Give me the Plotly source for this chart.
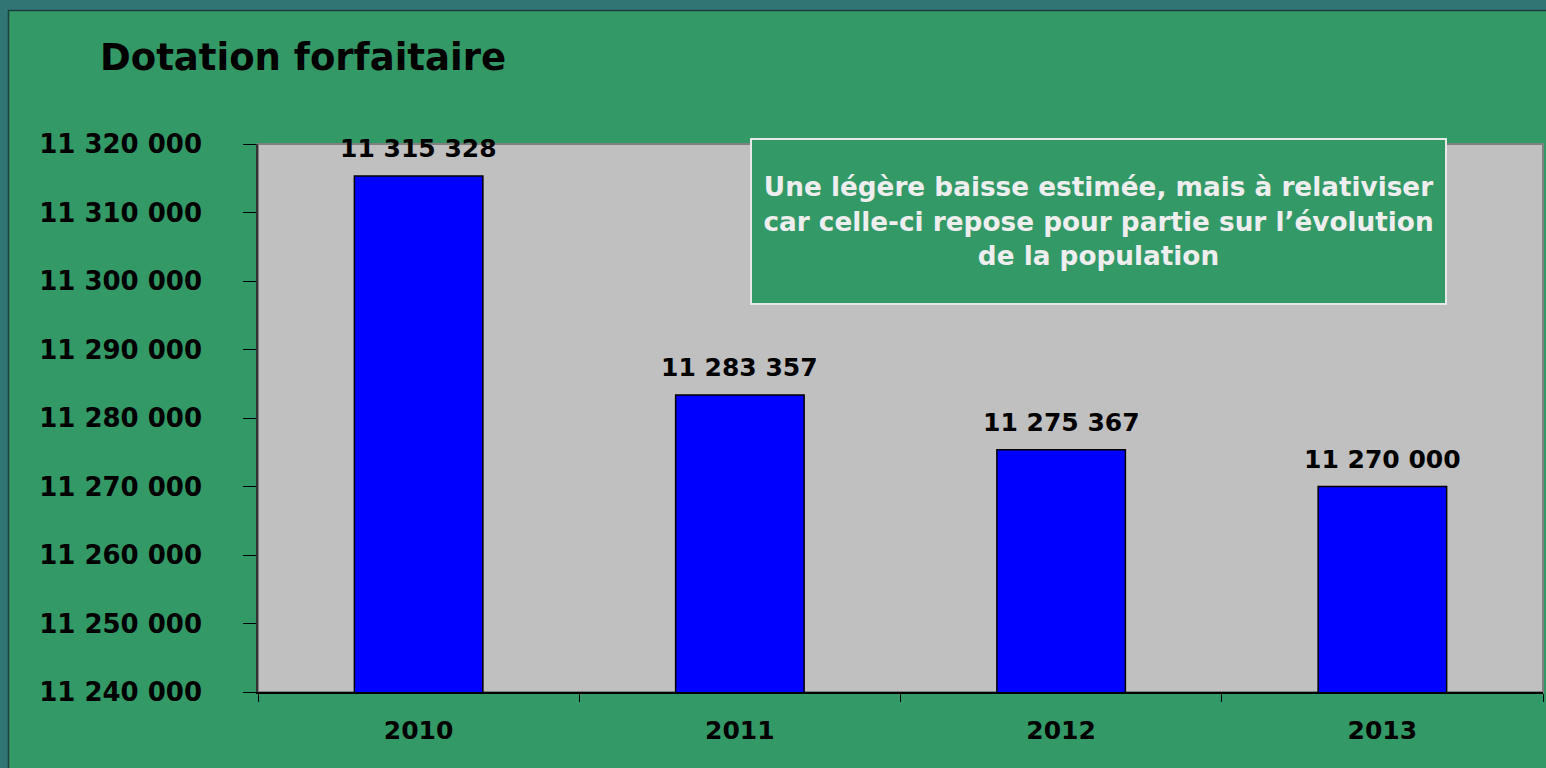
import plotly.graph_objects as go

years = ["2010", "2011", "2012", "2013"]
dotation = [11315328, 11283357, 11275367, 11270000]
y_ticks = [11240000, 11250000, 11260000, 11270000, 11280000, 11290000, 11300000, 11310000, 11320000]

W, H = 1546, 768
L, R, T, B = 258, 3, 144, 76
pw, ph = W - L - R, H - T - B
FONT = "DejaVu Sans, Liberation Sans, Arial"


def px(x):
    return (x - L) / pw


def py(y):
    return (H - B - y) / ph


fig = go.Figure()

fig.add_trace(go.Bar(
    x=years,
    y=dotation,
    marker=dict(color="#0000FF", line=dict(color="black", width=1.5)),
    hoverinfo="skip",
))

# value labels above the bars (category index for x)
for i, v in enumerate(dotation):
    fig.add_annotation(
        x=i, y=v, xref="x", yref="y",
        text=f"<b>{v:,}</b>".replace(",", " "),
        showarrow=False, yanchor="bottom", yshift=11,
        font=dict(family=FONT, size=25, color="black"),
    )

# outer slide frame
fig.add_shape(type="rect", xref="paper", yref="paper",
              x0=px(8.5), x1=px(W + 5), y0=py(H + 5), y1=py(10.5),
              fillcolor="#339966", line=dict(color="#1f3f3f", width=1.5),
              layer="below")
# plot area (grey fill, grey border top/right)
fig.add_shape(type="rect", xref="paper", yref="paper",
              x0=0, x1=1, y0=0, y1=1,
              line=dict(color="#808080", width=2), layer="below",
              fillcolor="#C0C0C0")

fig.add_annotation(
    xref="paper", yref="paper", x=px(98), y=py(58),
    xanchor="left", yanchor="middle", showarrow=False,
    text="<b>Dotation forfaitaire</b>",
    font=dict(family=FONT, size=37, color="black"),
)

fig.add_annotation(
    xref="paper", yref="paper", x=px(1098.5), y=py(221.5),
    xanchor="center", yanchor="middle", showarrow=False,
    text="<b>Une légère baisse estimée, mais à relativiser<br>"
         "car celle-ci repose pour partie sur l’évolution<br>"
         "de la population</b>",
    font=dict(family=FONT, size=26.3, color="#EEEEEE"),
    align="center",
    bgcolor="#339966", bordercolor="#E8E8E8", borderwidth=2,
    width=693, height=163, borderpad=0,
)

fig.update_layout(
    width=W, height=H,
    margin=dict(l=L, r=R, t=T, b=B, autoexpand=False),
    paper_bgcolor="#317575",
    plot_bgcolor="rgba(0,0,0,0)",
    separators=", ",
    showlegend=False,
    bargap=0.6,
    font=dict(family=FONT, color="black"),
    xaxis=dict(
        type="category",
        range=[-0.5, 3.5],
        showline=True, linecolor="black", linewidth=1.5,
        ticks="outside", ticklen=8, tickcolor="black",
        tickson="boundaries",
        tickangle=0,
        ticklabelstandoff=15,
        tickfont=dict(size=25, family=FONT, weight="bold"),
        showgrid=False,
    ),
    yaxis=dict(
        range=[11240000, 11320000],
        tickvals=y_ticks,
        tickformat=",d",
        showline=True, linecolor="#333333", linewidth=1.5,
        ticks="outside", ticklen=13, tickcolor="black",
        ticklabelstandoff=36,
        tickfont=dict(size=26, family=FONT, weight="bold"),
        showgrid=False, zeroline=False,
    ),
)

fig.write_html("out.html", config={"displayModeBar": False},
               post_script="document.body.style.margin='0';document.body.style.overflow='hidden';")
